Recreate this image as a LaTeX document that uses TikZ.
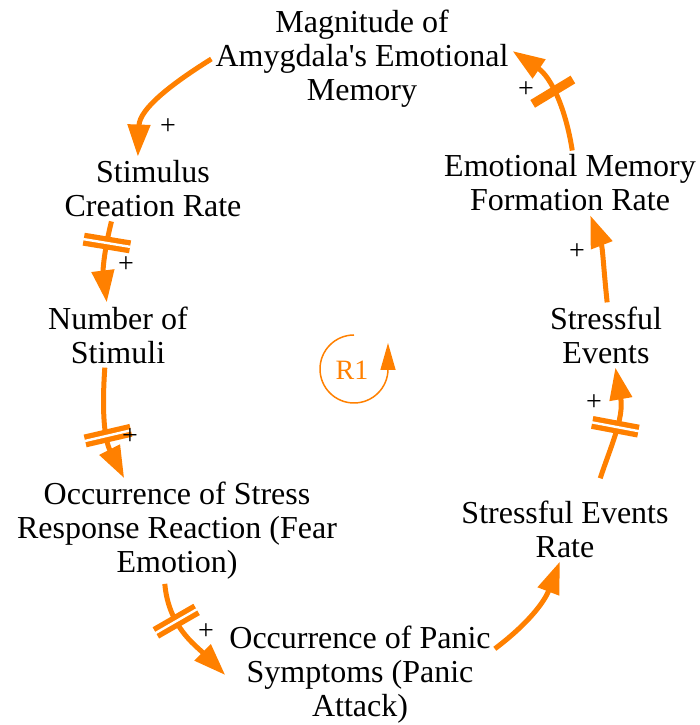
\documentclass[tikz,border=0pt]{standalone}
\usepackage{fontspec}
\setmainfont{Liberation Serif}
\usetikzlibrary{arrows.meta, decorations.markings}
\definecolor{vorange}{RGB}{255,128,0}

\begin{document}
\begin{tikzpicture}[x=1pt, y=1pt,
  var/.style={align=center, inner sep=4pt, font=\fontsize{32}{34}\selectfont},
  link/.style={line width=5pt, vorange, -{Triangle[length=32pt, width=22pt]}},
  sgn/.style={inner sep=0pt, font=\fontsize{28}{30}\selectfont},
  delay/.style={postaction={decorate, decoration={markings, mark=at position #1 with {
    \fill[vorange] (-6.5pt,-23.5pt) rectangle (6.5pt,23.5pt);
    \fill[white] (-1.2pt,-24pt) rectangle (1.2pt,24pt);}}}},
  delayfull/.style={postaction={decorate, decoration={markings, mark=at position #1 with {
    \fill[vorange] (-4.5pt,-23.5pt) rectangle (4.5pt,23.5pt);}}}}]
  \useasboundingbox (0,0) rectangle (699,725);

  % Variables
  \node[var] (mag) at (362,666) {Magnitude of\\Amygdala\textquotesingle s Emotional\\Memory};
  \node[var] (scr) at (153,536) {Stimulus\\Creation Rate};
  \node[var] (nos) at (118,390) {Number of\\Stimuli};
  \node[var] (osr) at (177,194) {Occurrence of Stress\\Response Reaction (Fear\\Emotion)};
  \node[var] (ops) at (360,50) {Occurrence of Panic\\Symptoms (Panic\\Attack)};
  \node[var] (ser) at (565,196) {Stressful Events\\Rate};
  \node[var] (sev) at (606,390) {Stressful\\Events};
  \node[var] (emf) at (570,542) {Emotional Memory\\Formation Rate};

  % Causal links
  \draw[link] (mag.180) to[out=212, in=88] (scr.115);
  \draw[link, delay=0.27] (scr.218) to[out=256, in=97] (nos.109);
  \draw[link, delay=0.6] (nos.248) to[out=266, in=117] (osr.135);
  \draw[link, delay=0.35] (osr.257) to[out=275, in=135] (ops.180);
  \draw[link] (ops.11) to[out=37, in=249] (ser.261);
  \draw[link, delay=0.55, shorten <=19pt] (ser.48) to[out=72, in=280] (sev.286);
  \draw[link] (sev.88) to[out=96, in=291] (emf.302);
  \draw[link, delayfull=0.52] (emf.86) to[out=99, in=326] (mag.3);

  % Polarities
  \node[sgn] (p1) at (168,598) {+};
  \node[sgn] (p2) at (126,460) {+};
  \node[sgn] (p3) at (130,288) {+};
  \node[sgn] (p4) at (206,93) {+};
  \node[sgn] (p6) at (594,322) {+};
  \node[sgn] (p7) at (577,473) {+};
  \node[sgn] (p8) at (526,635) {+};

  % Loop R1
  \node[font=\fontsize{28}{30}\selectfont, text=vorange] (r1) at (352,355) {R1};
  \draw[vorange, line width=1.5pt, -{Triangle[length=27pt, width=15pt]}]
    ([xshift=2pt, yshift=35pt]r1.center) arc[start angle=90, end angle=360, radius=34pt] -- ++(0,26pt);
\end{tikzpicture}
\end{document}
